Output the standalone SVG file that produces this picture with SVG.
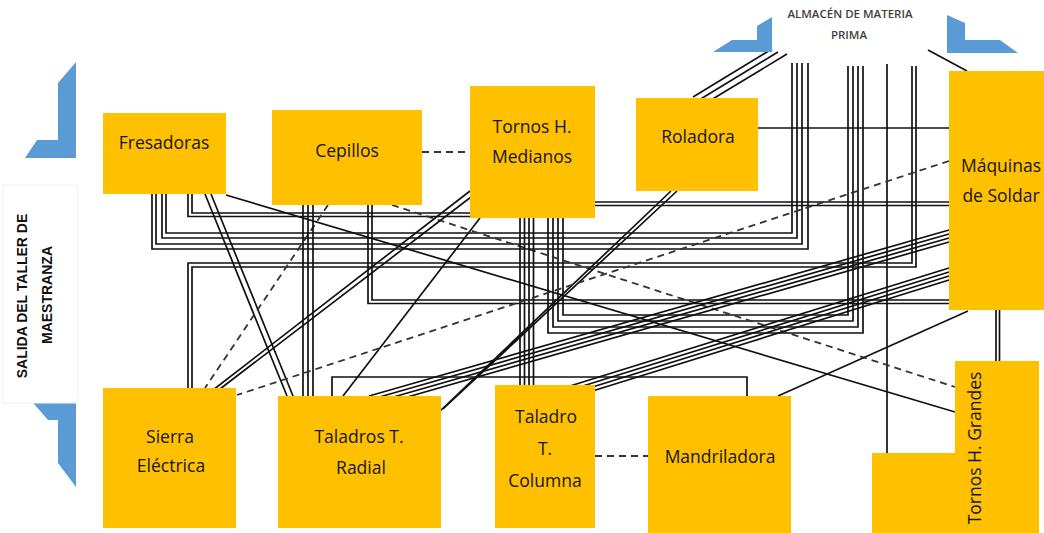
<svg xmlns="http://www.w3.org/2000/svg" width="1044" height="533" viewBox="0 0 1044 533">
<style>
.ln{fill:none;stroke:#111;stroke-width:1.7}
.dash{fill:none;stroke:#333;stroke-width:1.8;stroke-dasharray:7 5}
.node{fill:#FFC000}
.blue{fill:#5B9BD5}
.lbl{font-family:"Open Sans","Liberation Sans",sans-serif;font-size:17.5px;fill:#161616;text-anchor:middle}
.cap{font-family:"Open Sans","Liberation Sans",sans-serif;font-size:11.5px;font-weight:600;fill:#404040;text-anchor:middle}
.side{font-family:"Liberation Sans",Arial,sans-serif;font-size:14px;font-weight:bold;fill:#111;text-anchor:middle}
</style>
<rect width="1044" height="533" fill="#fff"/>

<g id="connectors">
  <!-- Almacen -> Roladora -->
  <path class="ln" d="M772,49 L693,97 M778,52 L699,100 M787,54 L706,103"/>
  <!-- Almacen -> Maquinas -->
  <path class="ln" d="M928,50 L967,71"/>
  <!-- Almacen -> Fresadoras -->
  <path class="ln" d="M166,194 V233 H792 V63 M162,194 V238 H797 V63 M156,194 V244 H802 V63 M152,194 V249 H808 V63"/>
  <!-- Almacen -> Tornos H. Medianos -->
  <path class="ln" d="M848,66 V315 H563 V218 M853,66 V321 H558 V218 M858,66 V327 H553 V218 M863,66 V333 H548 V218"/>
  <!-- Almacen -> Tornos H. Grandes -->
  <path class="ln" d="M887,64 V453"/>
  <!-- Almacen -> Sierra -->
  <path class="ln" d="M912,66 V263 H188 V388 M916,66 V267 H192 V388"/>
  <!-- Fresadoras -> Medianos -->
  <path class="ln" d="M192,194 V213 H470 M188,194 V216.5 H470"/>
  <!-- Medianos -> Maquinas -->
  <path class="ln" d="M595,202 H949 M595,205.5 H949"/>
  <!-- Fresadoras -> Taladros Radial -->
  <path class="ln" d="M205,194 L287,396 M211,194 L293,396"/>
  <!-- Fresadoras -> Tornos H. Grandes -->
  <path class="ln" d="M226,195 L955,412"/>
  <!-- Cepillos -> Medianos -->
  <path class="dash" d="M422,152 H470"/>
  <!-- Cepillos -> Tornos H. Grandes -->
  <path class="dash" d="M392,205 L955,387"/>
  <!-- Cepillos -> Sierra -->
  <path class="dash" d="M328,205 L205,388"/>
  <!-- Cepillos -> Taladros Radial -->
  <path class="ln" d="M303,205 V396 M308,205 V396 M313,205 V396"/>
  <!-- Cepillos -> Maquinas -->
  <path class="ln" d="M368,205 V303.5 H949 M372,205 V300 H949"/>
  <!-- Medianos -> Taladro Columna -->
  <path class="ln" d="M520,218 V385 M524.5,218 V385 M529,218 V385 M533.5,218 V385"/>
  <!-- Roladora -> Maquinas -->
  <path class="ln" d="M758,128 H949"/>
  <!-- Medianos -> Sierra -->
  <path class="ln" d="M470,191 L213,390 M473,195.5 L218,390.5"/>
  <!-- Medianos -> Taladros Radial -->
  <path class="ln" d="M480,218 L343,396"/>
  <!-- Roladora -> Taladros Radial -->
  <path class="ln" d="M671,191 L439,412 M677,191 L443,409"/>
  <!-- Maquinas -> Taladros Radial -->
  <path class="ln" d="M949,230 L369,396 M949,234 L369,400 M949,238 L369,404 M949,242 L369,408"/>
  <!-- Maquinas -> Taladro Columna -->
  <path class="ln" d="M949,268 L570,386 M949,272 L570,390 M949,276 L570,394 M949,280 L570,398"/>
  <!-- Maquinas -> Tornos H. Grandes -->
  <path class="ln" d="M996,310 V361 M999.5,310 V361"/>
  <!-- Maquinas -> Mandriladora -->
  <path class="ln" d="M968,311 L778,396"/>
  <!-- Maquinas -> Sierra -->
  <path class="dash" d="M949,161 L237,395"/>
  <!-- Taladros Radial -> Mandriladora -->
  <path class="ln" d="M332,396 V377 H747 V396"/>
  <!-- Taladro Columna -> Mandriladora -->
  <path class="dash" d="M595,456 H648"/>
</g>

<g id="almacen">
  <polygon class="blue" points="757,26 772,17 772,52 713,52 732,40 757,40"/>
  <polygon class="blue" points="947,15 965,23 965,40 1000,40 1018,53 947,53"/>
  <text class="cap" x="850" y="18">ALMACÉN DE MATERIA</text>
  <text class="cap" x="849" y="39">PRIMA</text>
</g>

<g id="salida">
  <polygon class="blue" points="76,62 76,158 25,158 37,140 58,140 58,83"/>
  <polygon class="blue" points="28,397 76,397 76,487 58,463 58,420 48,420"/>
  <rect x="3" y="185" width="75" height="218" fill="#fff" stroke="#f0f0f0" stroke-width="1"/>
  <text class="side" transform="translate(27,296) rotate(-90)">SALIDA DEL TALLER DE</text>
  <text class="side" transform="translate(52,295) rotate(-90)">MAESTRANZA</text>
</g>

<g id="fresadoras">
  <rect class="node" x="103" y="113" width="123" height="81"/>
  <text class="lbl" x="164" y="149">Fresadoras</text>
</g>
<g id="cepillos">
  <rect class="node" x="272" y="110" width="150" height="95"/>
  <text class="lbl" x="347" y="157">Cepillos</text>
</g>
<g id="tornos-medianos">
  <rect class="node" x="470" y="86" width="125" height="132"/>
  <text class="lbl" x="532" y="133">Tornos H.</text>
  <text class="lbl" x="532" y="163">Medianos</text>
</g>
<g id="roladora">
  <rect class="node" x="636" y="98" width="122" height="93"/>
  <text class="lbl" x="698" y="143">Roladora</text>
</g>
<g id="maquinas-soldar">
  <rect class="node" x="949" y="71" width="95" height="239"/>
  <text class="lbl" x="1001" y="172">Máquinas</text>
  <text class="lbl" x="1001" y="202">de Soldar</text>
</g>
<g id="sierra">
  <rect class="node" x="103" y="388" width="133" height="140"/>
  <text class="lbl" x="170" y="443">Sierra</text>
  <text class="lbl" x="171" y="472">Eléctrica</text>
</g>
<g id="taladros-radial">
  <rect class="node" x="278" y="396" width="163" height="132"/>
  <text class="lbl" x="359" y="443">Taladros T.</text>
  <text class="lbl" x="361" y="474">Radial</text>
</g>
<g id="taladro-columna">
  <rect class="node" x="495" y="385" width="100" height="143"/>
  <text class="lbl" x="546" y="423">Taladro</text>
  <text class="lbl" x="545" y="455">T.</text>
  <text class="lbl" x="545" y="487">Columna</text>
</g>
<g id="mandriladora">
  <rect class="node" x="648" y="396" width="143" height="137"/>
  <text class="lbl" x="720" y="463">Mandriladora</text>
</g>
<g id="tornos-grandes">
  <polygon class="node" points="955,361 1039,361 1039,533 872,533 872,453 955,453"/>
  <text class="lbl" transform="translate(981,448) rotate(-90)">Tornos H. Grandes</text>
</g>
</svg>
